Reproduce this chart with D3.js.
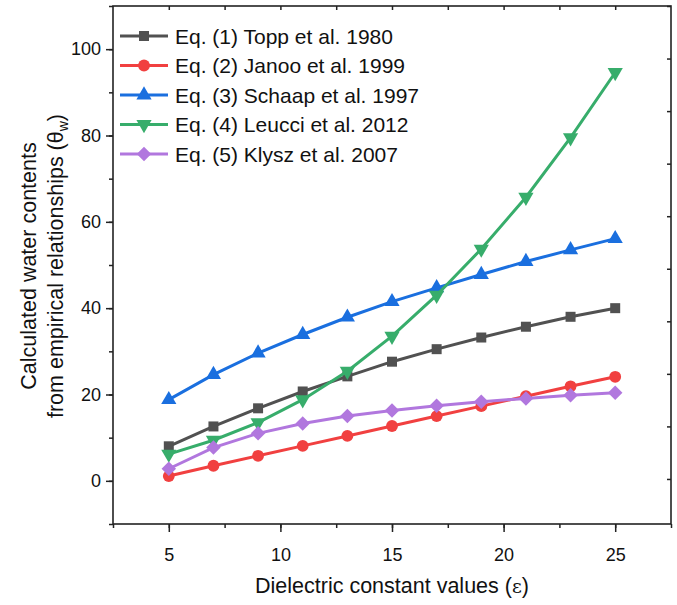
<!DOCTYPE html>
<html>
<head>
<meta charset="utf-8">
<script src="https://cdn.jsdelivr.net/npm/d3@7"></script>
<style>
  body { margin: 0; background: #fff; }
  text { font-family: "Liberation Sans", Arial, sans-serif; fill: #111; }
</style>
</head>
<body>
<svg id="chart" width="677" height="605"></svg>
<script>
(function(){
    "use strict";

    // dielectric constant values
    var epsilon = [5, 7, 9, 11, 13, 15, 17, 19, 21, 23, 25];

    var toppValues   = [8.0, 12.6, 16.8, 20.7, 24.2, 27.6, 30.5, 33.2, 35.7, 38.0, 40.0];
    var janooValues  = [1.1, 3.5, 5.8, 8.1, 10.4, 12.7, 15.0, 17.3, 19.6, 21.9, 24.1];
    var schaapValues = [18.8, 24.6, 29.6, 33.9, 37.9, 41.5, 44.7, 47.8, 50.8, 53.5, 56.1];
    var leucciValues = [6.2, 9.4, 13.5, 18.8, 25.4, 33.5, 43.0, 53.7, 65.7, 79.5, 94.6];
    var klyszValues  = [2.8, 7.7, 11.0, 13.3, 15.0, 16.3, 17.4, 18.3, 19.1, 19.8, 20.4];

    var seriesNames = [
        "Eq. (1) Topp et al. 1980",
        "Eq. (2) Janoo et al. 1999",
        "Eq. (3) Schaap et al. 1997",
        "Eq. (4) Leucci et al. 2012",
        "Eq. (5) Klysz et al. 2007"
    ];
    var seriesValues = [toppValues, janooValues, schaapValues, leucciValues, klyszValues];
    var colors = ["#515151", "#F14040", "#1A6FDF", "#37AD6B", "#B177DE"];

    var xTicks = [5, 10, 15, 20, 25];
    var yTicks = [0, 20, 40, 60, 80, 100];

    var left = 113, right = 671, top = 6, bottom = 524;

    var svg = d3.select("#chart");

    var x = d3.scaleLinear().domain([2.5, 27.5]).range([left, right]);
    var y = d3.scaleLinear().domain([-10, 110]).range([bottom, top]);
    // the right-hand axis in the original has its own tick spacing
    var yRight = d3.scaleLinear().domain([-8.57, 90]).range([bottom, top]);

    // axes
    svg.append("g")
        .attr("transform", "translate(0," + bottom + ")")
        .call(d3.axisBottom(x).tickValues(d3.range(2.5, 27.6, 2.5)).tickSize(4).tickFormat(""));
    svg.append("g")
        .attr("transform", "translate(0," + bottom + ")")
        .call(d3.axisBottom(x).tickValues(xTicks).tickSize(8).tickPadding(16))
        .attr("font-size", 18);

    svg.append("g")
        .attr("transform", "translate(" + left + ",0)")
        .call(d3.axisLeft(y).tickValues(d3.range(-10, 111, 10)).tickSize(4).tickFormat(""));
    svg.append("g")
        .attr("transform", "translate(" + left + ",0)")
        .call(d3.axisLeft(y).tickValues(yTicks).tickSize(7).tickPadding(5))
        .attr("font-size", 18);

    svg.append("g")
        .attr("transform", "translate(0," + top + ")")
        .call(d3.axisBottom(x).tickValues(d3.range(5, 25.1, 2.5)).tickSize(4).tickFormat(""));
    svg.append("g")
        .attr("transform", "translate(" + right + ",0)")
        .call(d3.axisLeft(yRight).tickValues(d3.range(0, 91, 10)).tickSize(4).tickFormat(""));

    svg.selectAll(".domain").remove();
    svg.selectAll(".tick line").attr("stroke", "#222").attr("stroke-width", 1.5);
    svg.selectAll(".tick text").attr("fill", "#111").attr("font-family", "Liberation Sans, Arial, sans-serif");

    svg.append("rect")
        .attr("x", left).attr("y", top)
        .attr("width", right - left).attr("height", bottom - top)
        .attr("fill", "none").attr("stroke", "#222").attr("stroke-width", 1.6);

    // series (diamond = square turned 45 degrees)
    var symbols = [
        d3.symbol().type(d3.symbolSquare).size(100),
        d3.symbol().type(d3.symbolCircle).size(110),
        d3.symbol().type(d3.symbolTriangle).size(100),
        d3.symbol().type(d3.symbolTriangle).size(100),
        d3.symbol().type(d3.symbolSquare).size(105)
    ];
    var rotations = [0, 0, 0, 180, 45];

    var line = d3.line()
        .x(function(d, i) { return x(epsilon[i]); })
        .y(function(d) { return y(d); });

    seriesValues.forEach(function(values, s) {
        var g = svg.append("g");
        g.append("path")
            .datum(values)
            .attr("d", line)
            .attr("fill", "none")
            .attr("stroke", colors[s])
            .attr("stroke-width", 3);
        g.selectAll("path.marker")
            .data(values)
            .enter()
            .append("path")
            .attr("class", "marker")
            .attr("d", symbols[s])
            .attr("fill", colors[s])
            .attr("transform", function(d, i) {
                return "translate(" + x(epsilon[i]) + "," + y(d) + ") rotate(" + rotations[s] + ")";
            });
    });

    // legend
    var legend = svg.append("g");
    seriesNames.forEach(function(name, s) {
        var ly = 36 + s * 29.5;
        legend.append("line")
            .attr("x1", 120).attr("x2", 168)
            .attr("y1", ly).attr("y2", ly)
            .attr("stroke", colors[s]).attr("stroke-width", 3);
        legend.append("path")
            .attr("d", symbols[s])
            .attr("fill", colors[s])
            .attr("transform", "translate(144," + ly + ") rotate(" + rotations[s] + ")");
        legend.append("text")
            .attr("x", 175).attr("y", ly)
            .attr("dy", "0.36em")
            .attr("font-size", 21)
            .text(name);
    });

    // axis titles
    var xTitle = svg.append("text")
        .attr("x", (left + right) / 2)
        .attr("y", 593)
        .attr("text-anchor", "middle")
        .attr("font-size", 21.5)
        .text("Dielectric constant values (");
    xTitle.append("tspan").attr("font-family", "DejaVu Serif, serif").attr("font-size", 19).text("ε");
    xTitle.append("tspan").text(")");

    var yTitle = svg.append("g")
        .attr("transform", "translate(0,266) rotate(-90)");
    yTitle.append("text")
        .attr("x", 0).attr("y", 36)
        .attr("text-anchor", "middle")
        .attr("font-size", 21.5)
        .text("Calculated water contents");
    var yLine2 = yTitle.append("text")
        .attr("x", 0).attr("y", 63)
        .attr("text-anchor", "middle")
        .attr("font-size", 21.5)
        .text("from empirical relationships (");
    yLine2.append("tspan").text("θ");
    yLine2.append("tspan").attr("font-size", 14).attr("dy", 5).text("w");
    yLine2.append("tspan").attr("dy", -5).text(")");
})();
</script>
</body>
</html>
